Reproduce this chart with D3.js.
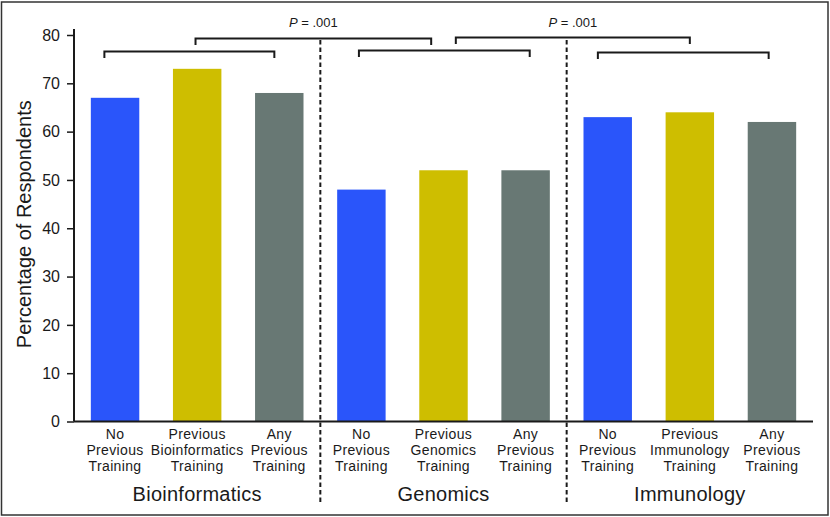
<!DOCTYPE html>
<html>
<head>
<meta charset="utf-8">
<script src="https://cdn.jsdelivr.net/npm/d3@7"></script>
<style>
  html, body { margin: 0; padding: 0; background: #fff; }
  svg { display: block; font-family: "Liberation Sans", Arial, Helvetica, sans-serif; }
</style>
</head>
<body>
<svg id="chart" width="830" height="517"></svg>
<script>
// ---------- data ----------
const groups = ["Bioinformatics", "Genomics", "Immunology"];
const categoryLabels = [
  ["No", "Previous", "Training"],
  ["Previous", "Bioinformatics", "Training"],
  ["Any", "Previous", "Training"],
  ["No", "Previous", "Training"],
  ["Previous", "Genomics", "Training"],
  ["Any", "Previous", "Training"],
  ["No", "Previous", "Training"],
  ["Previous", "Immunology", "Training"],
  ["Any", "Previous", "Training"]
];
const seriesNames = ["No Previous Training", "Previous Training in Field", "Any Previous Training"];
const values = [67, 73, 68, 48, 52, 52, 63, 64, 62];
const seriesIndex = [0, 1, 2, 0, 1, 2, 0, 1, 2];
const yTicks = [0, 10, 20, 30, 40, 50, 60, 70, 80];
const yTitle = "Percentage of Respondents";
// brackets: from / to category index, level in % units, label
const bracketFrom = [-0.13, 0.98, 2.97, 4.15, 5.88];
const bracketTo   = [1.94, 3.85, 5.05, 7.0, 7.96];
const bracketLevel = [76.6, 79.3, 76.8, 79.5, 76.4];
const bracketLabel = ["", "P = .001", "", "P = .001", ""];

// ---------- styles ----------
const colors = ["#2a55fa", "#cebe00", "#687874"];
const ink = "#1a1a1a";

(function () {
const svg = d3.select("#chart");
const mLeft = 74, mRight = 813, mTop = 35, mBottom = 421.5;

// outer frame
svg.append("rect")
  .attr("x", 1.5).attr("y", 2).attr("width", 826.5).attr("height", 513)
  .attr("fill", "none").attr("stroke", "#333").attr("stroke-width", 1.5);

const idx = d3.range(values.length);
const x = d3.scaleBand().domain(idx).range([mLeft, mRight]).paddingInner(0.41).paddingOuter(0.205);
const step = x.step();
const xc = f => mLeft + step * (f + 0.5);
const y = d3.scaleLinear().domain([0, 80]).range([mBottom, mTop]);

// bars
svg.append("g").selectAll("rect").data(idx).join("rect")
  .attr("x", i => x(i))
  .attr("y", i => y(values[i]))
  .attr("width", x.bandwidth())
  .attr("height", i => y(0) - y(values[i]))
  .attr("fill", i => colors[seriesIndex[i]]);

// y axis
const yAxis = d3.axisLeft(y).tickValues(yTicks).tickSize(7).tickSizeOuter(0).tickPadding(7);
const gy = svg.append("g").attr("transform", `translate(${mLeft},0)`).call(yAxis);
gy.select(".domain").attr("d", `M0,${mBottom}V29`).attr("stroke", ink).attr("stroke-width", 2);
gy.selectAll(".tick line").attr("stroke", ink).attr("stroke-width", 1.5);
gy.selectAll(".tick text")
  .attr("fill", ink)
  .style("font-size", "16px")
  .style("font-family", "'Liberation Sans', Arial, sans-serif");

// baseline
svg.append("line")
  .attr("x1", mLeft).attr("x2", mRight).attr("y1", y(0)).attr("y2", y(0))
  .attr("stroke", ink).attr("stroke-width", 2);

// y title
svg.append("text")
  .attr("transform", `translate(31,${(101.7 + 346.7) / 2}) rotate(-90)`)
  .attr("text-anchor", "middle")
  .attr("fill", ink)
  .style("font-size", "20px")
  .text(yTitle);

// group separators
[3, 6].forEach(k => {
  const xs = mLeft + step * k;
  svg.append("line")
    .attr("x1", xs).attr("x2", xs).attr("y1", 40).attr("y2", 504)
    .attr("stroke", ink).attr("stroke-width", 2)
    .attr("stroke-dasharray", "4.5,3");
});

// category labels
const catG = svg.append("g");
idx.forEach(i => {
  const cx = x(i) + x.bandwidth() / 2;
  const t = catG.append("text")
    .attr("x", cx)
    .attr("y", 438.5)
    .attr("text-anchor", "middle")
    .attr("fill", ink)
    .style("font-size", "14px")
    .style("letter-spacing", "0.35px");
  categoryLabels[i].forEach((line, j) => {
    t.append("tspan")
      .attr("x", cx)
      .attr("dy", j === 0 ? 0 : 16.2)
      .text(line);
  });
});

// group labels
groups.forEach((g, k) => {
  svg.append("text")
    .attr("x", (xc(3 * k) + xc(3 * k + 2)) / 2)
    .attr("y", 501)
    .attr("text-anchor", "middle")
    .attr("fill", ink)
    .style("font-size", "20px")
    .style("letter-spacing", "0.25px")
    .text(g);
});

// brackets
bracketFrom.forEach((f, k) => {
  const x1 = xc(f), x2 = xc(bracketTo[k]);
  const yy = y(bracketLevel[k]);
  const tick = 6.5;
  svg.append("path")
    .attr("d", `M${x1},${yy + tick}V${yy}H${x2}V${yy + tick}`)
    .attr("fill", "none").attr("stroke", ink).attr("stroke-width", 2);
  if (bracketLabel[k]) {
    const parts = bracketLabel[k].split(" = ");
    const t = svg.append("text")
      .attr("x", (x1 + x2) / 2)
      .attr("y", 27)
      .attr("text-anchor", "middle")
      .attr("fill", ink)
      .style("font-size", "13px");
    t.append("tspan").style("font-style", "italic").text(parts[0]);
    t.append("tspan").text(" = " + parts[1]);
  }
});
})();
</script>
</body>
</html>
